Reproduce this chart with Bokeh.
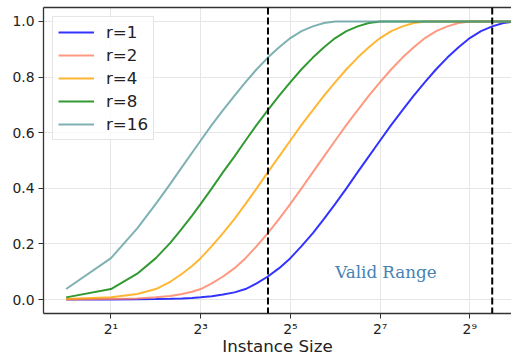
from bokeh.plotting import figure
from bokeh.models import Range1d, FixedTicker, Span, LogAxis, PrintfTickFormatter
from bokeh.core.properties import value
from bokeh.embed import file_html
from bokeh.resources import INLINE

instance_size = [1, 2, 3, 4, 5, 6, 7, 8, 9.5, 11.3, 13.5, 16, 19, 22.6, 26.9, 32, 38, 45.3,
                 53.8, 64, 76.1, 90.5, 107.6, 128, 152.2, 181, 215.3, 256, 304.4, 362,
                 430.5, 512, 608.9, 724, 861, 1024]

r1 = [0.0001, 0.0005, 0.001, 0.002, 0.003, 0.004, 0.006, 0.008, 0.012, 0.018, 0.026, 0.038,
      0.058, 0.083, 0.113, 0.149, 0.192, 0.239, 0.290, 0.344, 0.400, 0.458, 0.515, 0.572,
      0.628, 0.681, 0.733, 0.782, 0.828, 0.870, 0.907, 0.940, 0.965, 0.982, 0.994, 1.0]
r2 = [0.0005, 0.002, 0.004, 0.008, 0.013, 0.020, 0.028, 0.038,
      0.058, 0.083, 0.113, 0.149, 0.192, 0.239, 0.290, 0.344, 0.400, 0.458, 0.515, 0.572,
      0.628, 0.681, 0.733, 0.782, 0.828, 0.870, 0.907, 0.940, 0.965, 0.982, 0.994,
      1.0, 1.0, 1.0, 1.0, 1.0]
r4 = [0.002, 0.008, 0.020, 0.038, 0.064, 0.093, 0.121, 0.149,
      0.192, 0.239, 0.290, 0.344, 0.400, 0.458, 0.515, 0.572, 0.628, 0.681, 0.733, 0.782,
      0.828, 0.870, 0.907, 0.940, 0.965, 0.982, 0.994,
      1.0, 1.0, 1.0, 1.0, 1.0, 1.0, 1.0, 1.0, 1.0]
r8 = [0.008, 0.038, 0.093, 0.149, 0.204, 0.256, 0.302, 0.344,
      0.400, 0.458, 0.515, 0.572, 0.628, 0.681, 0.733, 0.782, 0.828, 0.870, 0.907, 0.940,
      0.965, 0.982, 0.994,
      1.0, 1.0, 1.0, 1.0, 1.0, 1.0, 1.0, 1.0, 1.0, 1.0, 1.0, 1.0, 1.0, 1.0]
r16 = [0.038, 0.149, 0.256, 0.344, 0.416, 0.477, 0.528, 0.572,
       0.628, 0.681, 0.733, 0.782, 0.828, 0.870, 0.907, 0.940, 0.965, 0.982, 0.994,
       1.0, 1.0, 1.0, 1.0, 1.0, 1.0, 1.0, 1.0, 1.0, 1.0, 1.0, 1.0, 1.0, 1.0, 1.0, 1.0, 1.0]

series = [("r=1", r1, "#0000ff"), ("r=2", r2, "#ff8060"), ("r=4", r4, "#ffa500"),
          ("r=8", r8, "#008000"), ("r=16", r16, "#5f9ea0")]

x_ticks = [2, 8, 32, 128, 512]
x_tick_labels = ["2\u00b9", "2\u00b3", "2\u2075", "2\u2077", "2\u2079"]
y_ticks = [0.0, 0.2, 0.4, 0.6, 0.8, 1.0]
valid_bounds = [2 ** 4.5, 2 ** 9.5]
annot_text = "Valid Range"
annot_pos = (64, 0.1)
x_title = "Instance Size"

p = figure(width=511, height=358, x_axis_type="log",
           x_range=Range1d(2 ** -0.505, 2 ** 9.93), y_range=Range1d(-0.05, 1.05),
           output_backend="svg", toolbar_location=None,
           min_border_left=43, min_border_right=0, min_border_top=7, min_border_bottom=45)
p.outline_line_color = None
p.background_fill_color = "white"
p.border_fill_color = "white"

for label, vals, col in series:
    p.line(instance_size, vals, line_color=col, line_alpha=0.8, line_width=2, legend_label=label)

for b in valid_bounds:
    p.add_layout(Span(location=b, dimension="height", line_color="black",
                      line_width=2, line_dash="7 3"))

p.text(x=[annot_pos[0]], y=[annot_pos[1]], text=[annot_text],
       text_font=value("DejaVu Serif"), text_font_size="16.7px",
       text_color="steelblue", text_align="left", text_baseline="alphabetic")

# axes
xa = p.xaxis[0]
xa.ticker = FixedTicker(ticks=x_ticks, minor_ticks=[])
xa.major_label_overrides = {t: l for t, l in zip(x_ticks, x_tick_labels)}
xa.axis_label = x_title
xa.axis_label_text_font = "DejaVu Sans"
xa.axis_label_text_font_size = "16.7px"
xa.axis_label_text_font_style = "normal"
xa.axis_label_text_color = "#222222"
xa.axis_label_standoff = -4
ya = p.yaxis[0]
ya.ticker = FixedTicker(ticks=y_ticks, minor_ticks=[])
ya.formatter = PrintfTickFormatter(format="%.1f")
for ax in (xa, ya):
    ax.major_label_text_font = "DejaVu Sans"
    ax.major_label_text_font_size = "13.9px"
    ax.major_label_text_color = "#222222"
    ax.axis_line_color = "#333333"
    ax.axis_line_width = 1.3
    ax.major_tick_line_color = "#333333"
    ax.major_tick_out = 5
    ax.major_tick_in = 0
    ax.minor_tick_line_color = None
xa.major_label_standoff = 2
ya.major_label_standoff = 4

top = LogAxis(ticker=FixedTicker(ticks=[], minor_ticks=[]), major_tick_line_color=None,
              minor_tick_line_color=None, major_label_text_font_size="0px",
              axis_line_color="#333333", axis_line_width=1.3, major_label_standoff=0)
p.add_layout(top, "above")

p.xgrid.ticker = FixedTicker(ticks=x_ticks)
p.ygrid.ticker = FixedTicker(ticks=y_ticks)
p.grid.grid_line_color = "#e6e6e6"
p.grid.grid_line_width = 1

lg = p.legend[0]
lg.location = "top_left"
lg.margin = 9
lg.padding = 5
lg.spacing = 3
lg.glyph_width = 36
lg.glyph_height = 20
lg.label_height = 20
lg.label_standoff = 12
lg.label_text_font = "DejaVu Sans"
lg.label_text_font_size = "16.7px"
lg.label_text_color = "#222222"
lg.border_line_color = "#cccccc"
lg.border_line_width = 1
lg.background_fill_alpha = 0.8

open("out.html", "w").write(file_html(p, INLINE))
